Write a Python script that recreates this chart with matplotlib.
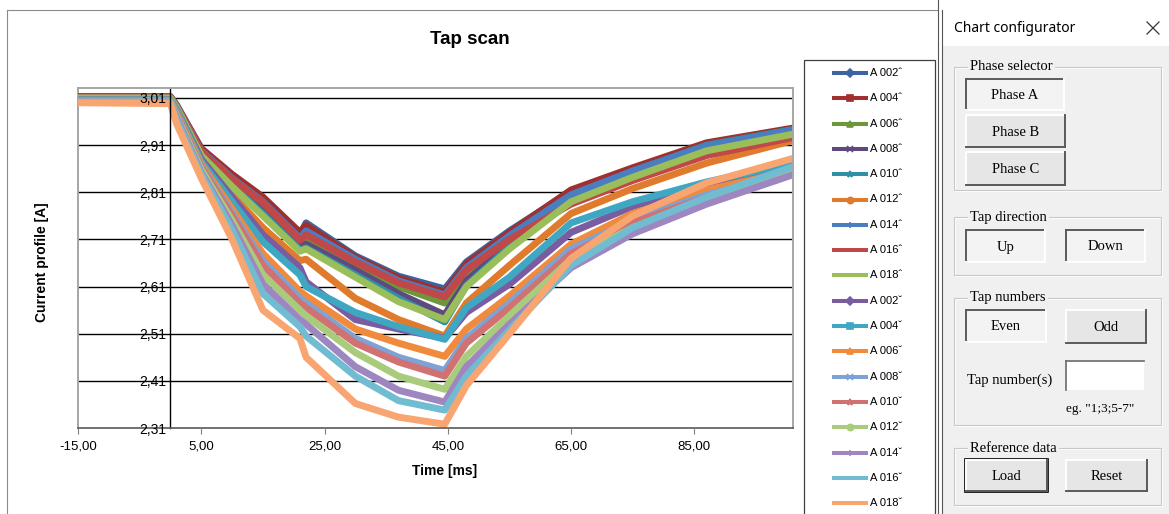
import numpy as np
import matplotlib.pyplot as plt
from matplotlib.patches import Rectangle

plt.rcParams['font.family'] = ['Liberation Sans', 'DejaVu Sans']

# sample times [ms]
time_ms = [-15, 0, 1, 5, 10, 15, 21, 22, 30, 37, 44.5, 48, 55, 65, 75, 87, 100.5]

# current profile per tap [A], taps moving up
a002_up = [3.013, 3.013, 2.995, 2.900, 2.845, 2.795, 2.720, 2.745, 2.675, 2.632, 2.605, 2.662, 2.728, 2.812, 2.860, 2.912, 2.943]
a004_up = [3.012, 3.012, 2.994, 2.903, 2.848, 2.800, 2.725, 2.740, 2.672, 2.628, 2.598, 2.658, 2.725, 2.815, 2.862, 2.915, 2.945]
a006_up = [3.010, 3.010, 2.992, 2.895, 2.835, 2.785, 2.705, 2.712, 2.660, 2.610, 2.575, 2.638, 2.712, 2.800, 2.850, 2.905, 2.935]
a008_up = [3.010, 3.010, 2.990, 2.892, 2.830, 2.775, 2.695, 2.700, 2.645, 2.595, 2.550, 2.622, 2.700, 2.795, 2.848, 2.902, 2.938]
a010_up = [3.009, 3.009, 2.990, 2.890, 2.825, 2.765, 2.688, 2.692, 2.635, 2.585, 2.535, 2.612, 2.695, 2.802, 2.855, 2.910, 2.942]
a012_up = [3.008, 3.008, 2.988, 2.880, 2.805, 2.735, 2.665, 2.668, 2.585, 2.540, 2.505, 2.575, 2.655, 2.765, 2.818, 2.872, 2.918]
a014_up = [3.011, 3.011, 2.993, 2.898, 2.840, 2.790, 2.712, 2.728, 2.668, 2.622, 2.592, 2.650, 2.718, 2.805, 2.855, 2.908, 2.940]
a016_up = [3.011, 3.011, 2.992, 2.896, 2.838, 2.788, 2.708, 2.720, 2.662, 2.618, 2.588, 2.645, 2.710, 2.785, 2.835, 2.888, 2.925]
a018_up = [3.010, 3.010, 2.990, 2.888, 2.822, 2.760, 2.685, 2.690, 2.630, 2.578, 2.540, 2.610, 2.690, 2.790, 2.842, 2.898, 2.932]

# taps moving down
a002_dn = [3.006, 3.006, 2.985, 2.880, 2.800, 2.720, 2.650, 2.620, 2.540, 2.520, 2.500, 2.555, 2.615, 2.725, 2.780, 2.825, 2.860]
a004_dn = [3.006, 3.006, 2.985, 2.875, 2.790, 2.705, 2.635, 2.610, 2.555, 2.525, 2.498, 2.565, 2.630, 2.745, 2.790, 2.832, 2.870]
a006_dn = [3.005, 3.005, 2.980, 2.870, 2.775, 2.680, 2.600, 2.590, 2.520, 2.490, 2.462, 2.520, 2.590, 2.700, 2.765, 2.815, 2.855]
a008_dn = [3.004, 3.004, 2.978, 2.865, 2.765, 2.665, 2.585, 2.575, 2.500, 2.460, 2.432, 2.500, 2.575, 2.690, 2.750, 2.805, 2.848]
a010_dn = [3.004, 3.004, 2.976, 2.862, 2.760, 2.655, 2.575, 2.565, 2.490, 2.450, 2.420, 2.490, 2.565, 2.680, 2.745, 2.800, 2.850]
a012_dn = [3.003, 3.003, 2.972, 2.858, 2.750, 2.635, 2.560, 2.548, 2.470, 2.420, 2.392, 2.462, 2.548, 2.668, 2.735, 2.795, 2.852]
a014_dn = [3.002, 3.002, 2.968, 2.852, 2.740, 2.615, 2.540, 2.530, 2.440, 2.390, 2.365, 2.440, 2.530, 2.650, 2.722, 2.785, 2.845]
a016_dn = [3.001, 3.001, 2.962, 2.848, 2.730, 2.595, 2.525, 2.505, 2.420, 2.368, 2.348, 2.420, 2.518, 2.655, 2.735, 2.800, 2.862]
a018_dn = [3.000, 2.998, 2.955, 2.840, 2.710, 2.560, 2.500, 2.460, 2.362, 2.333, 2.318, 2.400, 2.510, 2.670, 2.760, 2.830, 2.880]

series = [a002_up, a004_up, a006_up, a008_up, a010_up, a012_up, a014_up, a016_up, a018_up,
          a002_dn, a004_dn, a006_dn, a008_dn, a010_dn, a012_dn, a014_dn, a016_dn, a018_dn]

taps = ["002", "004", "006", "008", "010", "012", "014", "016", "018"]
labels = ["A " + t + "\u02c6" for t in taps] + ["A " + t + "\u02c7" for t in taps]

colors = ["#3d64a0", "#a0302f", "#6e963a", "#5e4a7e", "#2f8fa8", "#e07a2c", "#4a7ec0", "#c04848", "#9abe5a",
          "#7a5ca0", "#3fa7c2", "#f08a3c", "#7ea2d6", "#d07272", "#a9cc7c", "#9e86c0", "#72bcd2", "#f8a572"]
markers = ["D", "s", "^", "x", "*", "o", "+", "_", "", "D", "s", "^", "x", "*", "o", "+", "_", ""]

x_ticks = [-15, 5, 25, 45, 65, 85]
y_ticks = [2.31, 2.41, 2.51, 2.61, 2.71, 2.81, 2.91, 3.01]

W, H = 1169, 514
fig = plt.figure(figsize=(W / 100, H / 100), dpi=100)
fig.patch.set_facecolor("white")

ax = fig.add_axes([78 / W, 1 - 428 / H, 715 / W, 340 / H])
# horizontal gridlines sit under the curves, tick labels on top of them
for yv in y_ticks[1:]:
    ax.axhline(yv, color="black", lw=1.0, zorder=0.5)
for vals, c in zip(series, colors):
    ax.plot(time_ms, vals, color=c, lw=5.0, zorder=2)

ax.set_xlim(-15, 101)
ax.set_ylim(2.31, 3.0312)
ax.set_xticks(x_ticks)
ax.set_xticklabels([f"{v:.2f}".replace(".", ",") for v in x_ticks], fontsize=9.5)
ax.set_yticks(y_ticks)
ax.set_yticklabels([f"{v:.2f}".replace(".", ",") for v in y_ticks], fontsize=9.5)
ax.xaxis.set_zorder(3)
ax.yaxis.set_zorder(3)

ax.spines["left"].set_position(("data", 0))
ax.spines["left"].set_color("black")
ax.spines["left"].set_linewidth(1.0)
for s in ["top", "right"]:
    ax.spines[s].set_color("#a6a6a6")
    ax.spines[s].set_linewidth(1.4)
ax.spines["bottom"].set_color("#595959")
ax.spines["bottom"].set_linewidth(1.2)
ax.axvline(-15, color="#a6a6a6", lw=1.4, clip_on=False, zorder=0.6)
ax.tick_params(axis="x", direction="out", length=4, color="#808080", pad=5)
ax.tick_params(axis="y", length=0, pad=3)

fig.text(470 / W, 1 - 40 / H, "Tap scan", ha="center", va="center", fontsize=13.5, fontweight="bold")
fig.text(445 / W, 1 - 471 / H, "Time [ms]", ha="center", va="center", fontsize=10, fontweight="bold")
fig.text(42 / W, 1 - 262 / H, "Current profile [A]", ha="center", va="center", rotation=90,
         fontsize=10, fontweight="bold")

# overlay in pixel coordinates for legend box and side panel
ov = fig.add_axes([0, 0, 1, 1], zorder=5)
ov.set_xlim(0, W)
ov.set_ylim(H, 0)
ov.axis("off")

# chart border
ov.plot([7, 7], [10, H], color="#8c8c8c", lw=0.8)
ov.plot([7, 938], [10, 10], color="#8c8c8c", lw=0.8)

# legend
ov.add_patch(Rectangle((804, 60), 131, 470, fc="white", ec="#404040", lw=0.9))
for i, (lab, c, m) in enumerate(zip(labels, colors, markers)):
    y = 73 + i * 25.3
    ov.plot([832, 868], [y, y], color=c, lw=2.9, solid_capstyle="butt")
    if m:
        ov.plot([850], [y], marker=m, color=c, ms=4.5, mew=1.2)
    ov.text(870, y, lab, ha="left", va="center", fontsize=8)

# side panel
serif = ["Liberation Serif", "DejaVu Serif"]
ov.add_patch(Rectangle((942, 10), 227, 504, fc="#f0f0f0", ec="none"))
ov.add_patch(Rectangle((942, 10), 227, 36, fc="white", ec="none"))
ov.plot([937.5, 937.5], [0, H], color="#555555", lw=0.8)
ov.plot([941.5, 941.5], [10, H], color="#555555", lw=0.8)
ov.text(954, 28, "Chart configurator", ha="left", va="center", fontsize=10, family=["Noto Sans", "DejaVu Sans"])
ov.plot([1147, 1159], [22, 34], color="#333333", lw=0.9)
ov.plot([1147, 1159], [34, 22], color="#333333", lw=0.9)


def group(x0, y0, x1, y1, caption):
    ov.add_patch(Rectangle((x0 + 1, y0 + 1), x1 - x0, y1 - y0, fill=False, ec="white", lw=0.8))
    ov.add_patch(Rectangle((x0, y0), x1 - x0, y1 - y0, fill=False, ec="#c8c8c8", lw=0.8))
    ov.text(x0 + 16, y0, caption, ha="left", va="center", fontsize=10.5, family=serif,
            bbox=dict(fc="#f0f0f0", ec="none", pad=1.5))


def button(x0, y0, x1, y1, text, pressed=False, default=False):
    ov.add_patch(Rectangle((x0, y0), x1 - x0, y1 - y0, fc="#f3f3f3" if pressed else "#e6e6e6", ec="none"))
    dark, light = "#5a5a5a", "white"
    tl, br = (dark, light) if pressed else (light, dark)
    ov.plot([x0, x1], [y0, y0], color=tl, lw=1.4)
    ov.plot([x0, x0], [y0, y1], color=tl, lw=1.4)
    ov.plot([x0, x1], [y1, y1], color=br, lw=1.4)
    ov.plot([x1, x1], [y0, y1], color=br, lw=1.4)
    if default:
        ov.add_patch(Rectangle((x0 - 1, y0 - 1), x1 - x0 + 2, y1 - y0 + 2, fill=False, ec="black", lw=1.2))
    ov.text((x0 + x1) / 2, (y0 + y1) / 2 + 1, text, ha="center", va="center", fontsize=10.5, family=serif)


group(954, 67, 1161, 190, "Phase selector")
button(966, 79, 1064, 110, "Phase A", pressed=True)
button(966, 115, 1065, 147, "Phase B")
button(966, 152, 1065, 185, "Phase C")

group(954, 217, 1161, 275, "Tap direction")
button(966, 230, 1045, 262, "Up", pressed=True)
button(1066, 230, 1145, 262, "Down", pressed=True)

group(954, 298, 1161, 425, "Tap numbers")
button(966, 310, 1046, 342, "Even", pressed=True)
button(1066, 310, 1146, 343, "Odd")
ov.text(967, 380, "Tap number(s)", ha="left", va="center", fontsize=10.5, family=serif)
ov.add_patch(Rectangle((1066, 361), 78, 29, fc="white", ec="none"))
ov.plot([1066, 1144], [361, 361], color="#6a6a6a", lw=1.2)
ov.plot([1066, 1066], [361, 390], color="#6a6a6a", lw=1.2)
ov.text(1066, 409, 'eg. "1;3;5-7"', ha="left", va="center", fontsize=9.5, family=serif)

group(954, 448, 1161, 505, "Reference data")
button(966, 460, 1047, 491, "Load", default=True)
button(1066, 460, 1147, 491, "Reset")

fig.savefig("out.png", dpi=100)
